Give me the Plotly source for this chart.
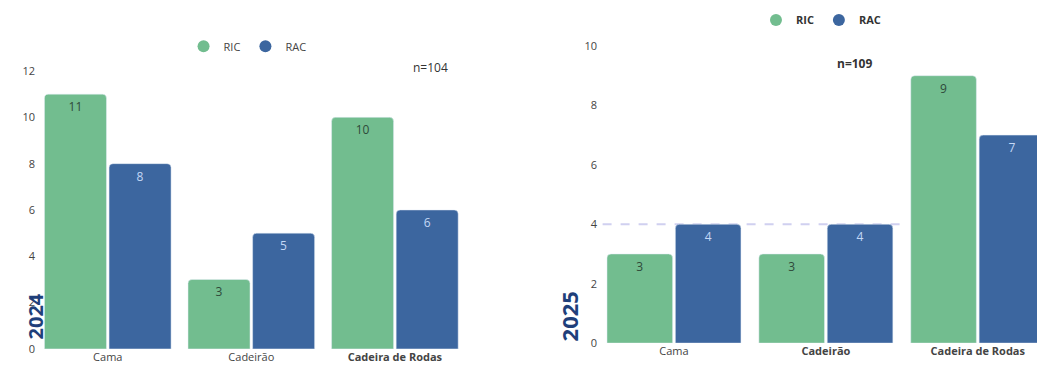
import plotly.graph_objects as go

categories = ["Cama", "Cadeirão", "Cadeira de Rodas"]
ric_2024 = [11, 3, 10]
rac_2024 = [8, 5, 6]
ric_2025 = [3, 3, 9]
rac_2025 = [4, 4, 7]
n_2024 = 104
n_2025 = 109
ref_2025 = 4
ticktext_2024 = ["Cama", "Cadeirão", "<b>Cadeira de Rodas</b>"]
ticktext_2025 = ["Cama", "<b>Cadeirão</b>", "<b>Cadeira de Rodas</b>"]

GREEN = "#72bd8f"
BLUE = "#3c669f"
FONT = "Open Sans"

fig = go.Figure()

def add_bars(xa, ya, ric, rac):
    fig.add_trace(go.Bar(x=categories, y=ric, xaxis=xa, yaxis=ya, marker_color=GREEN,
                         text=ric, textposition="inside", insidetextanchor="end",
                         textfont=dict(color="#2f4a3a", size=12, family=FONT),
                         showlegend=False))
    fig.add_trace(go.Bar(x=categories, y=rac, xaxis=xa, yaxis=ya, marker_color=BLUE,
                         text=rac, textposition="inside", insidetextanchor="end",
                         textfont=dict(color="#c4d8f6", size=12, family=FONT),
                         showlegend=False))

add_bars("x", "y", ric_2024, rac_2024)
add_bars("x2", "y2", ric_2025, rac_2025)

# legend dummies
for name, col, lg in [("RIC", GREEN, "legend"), ("RAC", BLUE, "legend"),
                      ("RIC", GREEN, "legend2"), ("RAC", BLUE, "legend2")]:
    fig.add_trace(go.Scatter(x=[None], y=[None], mode="markers", name=name,
                             marker=dict(color=col, size=12, symbol="circle"),
                             legend=lg, xaxis="x" if lg == "legend" else "x2",
                             yaxis="y" if lg == "legend" else "y2"))

fig.add_shape(type="line", xref="x2", yref="y2", x0=-0.47, x1=1.5, y0=ref_2025, y1=ref_2025,
              line=dict(color="#d0d0f0", width=2, dash="dash"), layer="below")

axis_font = dict(family=FONT, size=11, color="#444")
fig.update_layout(
    width=1037, height=365,
    margin=dict(l=0, r=0, t=0, b=0, autoexpand=False),
    plot_bgcolor="white", paper_bgcolor="white",
    barmode="group", bargap=0.1, bargroupgap=0.04, barcornerradius=4,
    font=dict(family=FONT, size=11, color="#333"),
    xaxis=dict(domain=[0.0347, 0.450], range=[-0.5, 2.5], tickmode="array",
               tickvals=categories, ticktext=ticktext_2024, tickfont=axis_font,
               showgrid=False, zeroline=False, showline=False, ticks="", anchor="y",
               automargin=False),
    yaxis=dict(domain=[0.044, 0.8055], range=[0, 12], dtick=2, showgrid=False,
               zeroline=False, tickfont=axis_font, anchor="x", automargin=False),
    xaxis2=dict(domain=[0.5767, 1.0], range=[-0.5, 2.39], tickmode="array",
                tickvals=categories, ticktext=ticktext_2025, tickfont=axis_font,
                showgrid=False, zeroline=False, showline=False, ticks="", anchor="y2",
                automargin=False),
    yaxis2=dict(domain=[0.060, 0.874], range=[0, 10], dtick=2, showgrid=False,
                zeroline=False, tickfont=axis_font, anchor="x2", automargin=False),
    legend=dict(orientation="h", x=0.177, y=0.873, xanchor="left", yanchor="middle",
                font=dict(family=FONT, size=11, color="#444"), itemwidth=30),
    legend2=dict(orientation="h", x=0.729, y=0.945, xanchor="left", yanchor="middle",
                 font=dict(family=FONT, size=11, color="#333", weight="bold"), itemwidth=30),
    annotations=[
        dict(text=f"n={n_2024}", xref="paper", yref="paper", x=0.415, y=0.845,
             showarrow=False, font=dict(family=FONT, size=12, color="#333")),
        dict(text=f"<b>n={n_2025}</b>", xref="paper", yref="paper", x=0.843, y=0.855,
             showarrow=False, font=dict(family=FONT, size=12, color="#333")),
        dict(text="<b>2024</b>", xref="paper", yref="paper", x=0.019, y=0.065,
             yanchor="bottom", textangle=-90, showarrow=False,
             font=dict(family=FONT, size=20, color="#1f3f7a")),
        dict(text="<b>2025</b>", xref="paper", yref="paper", x=0.549, y=0.06,
             yanchor="bottom", textangle=-90, showarrow=False,
             font=dict(family=FONT, size=22, color="#1f3f7a")),
    ],
)

fig.write_html("out.html")
